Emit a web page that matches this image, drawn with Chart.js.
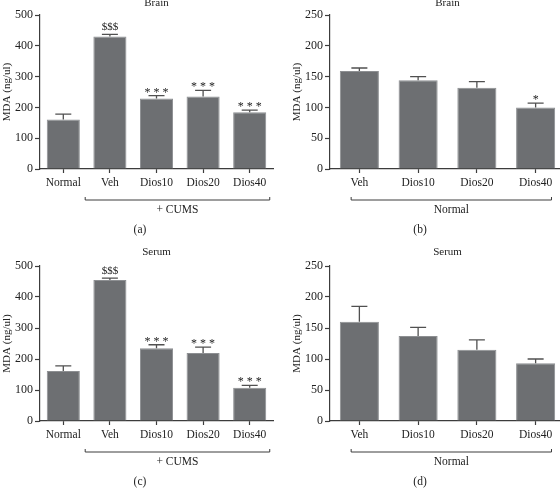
<!DOCTYPE html>
<html>
<head>
<meta charset="utf-8">
<script src="https://cdn.jsdelivr.net/npm/chart.js@4.4.1/dist/chart.umd.min.js"></script>
<style>
    html, body { margin: 0; padding: 0; background: #fff; overflow: hidden; }
    #wrap { position: relative; width: 560px; height: 490px; overflow: hidden; }
    canvas { position: absolute; }
</style>
</head>
<body>
<div id="wrap">
    <canvas id="panelA" width="280" height="245" style="left:0;top:0"></canvas>
    <canvas id="panelB" width="300" height="245" style="left:280px;top:0"></canvas>
    <canvas id="panelC" width="280" height="245" style="left:0;top:245px"></canvas>
    <canvas id="panelD" width="300" height="245" style="left:280px;top:245px"></canvas>
</div>
<script>
// Categories
const cumsLabels = ['Normal', 'Veh', 'Dios10', 'Dios20', 'Dios40'];
const normalLabels = ['Veh', 'Dios10', 'Dios20', 'Dios40'];

// Brain, + CUMS
const brainCumsMean = [161, 430, 229, 235, 184];
const brainCumsSem = [17, 7, 9, 20, 7];
const brainCumsMarks = ['', '$$$', '***', '***', '***'];

// Brain, Normal
const brainNormalMean = [159, 144, 132, 100];
const brainNormalSem = [5, 6, 10, 7];
const brainNormalMarks = ['', '', '', '*'];

// Serum, + CUMS
const serumCumsMean = [161, 455, 235, 219, 107];
const serumCumsSem = [17, 6, 11, 19, 8];
const serumCumsMarks = ['', '$$$', '***', '***', '***'];

// Serum, Normal
const serumNormalMean = [160, 137, 115, 93];
const serumNormalSem = [25, 14, 16, 7];
const serumNormalMarks = ['', '', '', ''];

// Tick labels
const cumsTicks = [0, 100, 200, 300, 400, 500];
const normalTicks = [0, 50, 100, 150, 200, 250];

const FONT = "'Liberation Serif', 'DejaVu Serif', serif";
const TEXT = '#222';
const AXIS = '#3c3c3c';
const BAR = '#6d6f72';

// Error bars, significance marks, titles, bracket and panel letter
const panelExtras = {
    id: 'panelExtras',
    afterDatasetsDraw(chart, args, opts) {
        const ctx = chart.ctx;
        const meta = chart.getDatasetMeta(0);
        const yScale = chart.scales.y;
        const values = chart.data.datasets[0].data;

        ctx.save();
        opts.sem.forEach(function (s, i) {
            const bar = meta.data[i];
            const base = yScale.getPixelForValue(values[i]);
            const top = yScale.getPixelForValue(values[i] + s);
            ctx.strokeStyle = '#505050';
            ctx.lineWidth = 1.3;
            ctx.beginPath();
            ctx.moveTo(bar.x, base);
            ctx.lineTo(bar.x, top);
            ctx.moveTo(bar.x - 8, top);
            ctx.lineTo(bar.x + 8, top);
            ctx.stroke();

            const mark = opts.marks[i];
            if (mark) {
                ctx.fillStyle = TEXT;
                ctx.textAlign = 'center';
                ctx.textBaseline = 'alphabetic';
                if (mark.charAt(0) === '$') {
                    ctx.font = '11px ' + FONT;
                    ctx.fillText(mark, bar.x, top - 4.5);
                } else {
                    ctx.font = '12px ' + FONT;
                    ctx.fillText(mark.split('').join(' '), bar.x, top);
                }
            }
        });
        ctx.restore();
    },
    afterDraw(chart, args, opts) {
        const ctx = chart.ctx;
        const area = chart.chartArea;
        const xScale = chart.scales.x;

        ctx.save();
        ctx.fillStyle = TEXT;
        ctx.textAlign = 'center';
        ctx.textBaseline = 'middle';

        // chart title
        ctx.font = '11px ' + FONT;
        ctx.fillText(opts.title, (area.left + area.right) / 2, opts.titleY);

        // y axis title
        ctx.save();
        ctx.translate(opts.yTitleX, (area.top + area.bottom) / 2);
        ctx.rotate(-Math.PI / 2);
        ctx.font = '11px ' + FONT;
        ctx.fillText('MDA (ng/ul)', 0, 0);
        ctx.restore();

        // group bracket
        const x0 = xScale.getPixelForValue(opts.bracket[0]);
        const x1 = xScale.getPixelForValue(opts.bracket[1]);
        const by = area.bottom + 31;
        ctx.strokeStyle = AXIS;
        ctx.lineWidth = 1;
        ctx.beginPath();
        ctx.moveTo(x0, by - 3);
        ctx.lineTo(x0, by);
        ctx.lineTo(x1, by);
        ctx.lineTo(x1, by - 3);
        ctx.stroke();

        ctx.font = '11.5px ' + FONT;
        ctx.fillText(opts.group, (x0 + x1) / 2, area.bottom + 41);

        // panel letter
        ctx.fillText(opts.letter, 140, area.bottom + 61);
        ctx.restore();
    }
};

function buildPanel(canvasId, labels, means, sems, marks, ticks, panel) {
    const canvas = document.getElementById(canvasId);
    return new Chart(canvas, {
        type: 'bar',
        data: {
            labels: labels,
            datasets: [{
                data: means,
                backgroundColor: BAR,
                borderColor: '#8d8f92',
                borderWidth: 1,
                barPercentage: panel.barPct,
                categoryPercentage: 1
            }]
        },
        plugins: [panelExtras],
        options: {
            responsive: false,
            animation: false,
            devicePixelRatio: 1,
            layout: { padding: { top: panel.top, right: canvas.width - panel.right, left: 0, bottom: 0 } },
            plugins: {
                legend: { display: false },
                tooltip: { enabled: false },
                panelExtras: {
                    sem: sems,
                    marks: marks,
                    title: panel.title,
                    titleY: panel.titleY,
                    yTitleX: panel.yTitleX,
                    group: panel.group,
                    bracket: panel.bracket,
                    letter: panel.letter
                }
            },
            scales: {
                x: {
                    afterFit: function (scale) { scale.height = canvas.height - panel.bottom; },
                    border: { display: true, color: AXIS, width: 1.2 },
                    grid: { display: true, offset: false, drawOnChartArea: false, drawTicks: true, tickLength: 4, tickColor: AXIS, tickWidth: 1.2 },
                    ticks: { color: TEXT, font: { family: FONT, size: 11.5 }, padding: 3, maxRotation: 0 }
                },
                y: {
                    min: ticks[0],
                    max: ticks[ticks.length - 1],
                    afterFit: function (scale) { scale.width = panel.left; },
                    afterBuildTicks: function (scale) {
                        scale.ticks = ticks.map(function (v) { return { value: v }; });
                    },
                    border: { display: true, color: AXIS, width: 1.2 },
                    grid: { display: true, drawOnChartArea: false, drawTicks: true, tickLength: 5, tickColor: AXIS, tickWidth: 1.2 },
                    ticks: { color: TEXT, font: { family: FONT, size: 12 }, padding: 2 }
                }
            }
        }
    });
}

buildPanel('panelA', cumsLabels, brainCumsMean, brainCumsSem, brainCumsMarks, cumsTicks, {
    left: 40, right: 273, top: 15, bottom: 169, barPct: 0.71,
    title: 'Brain', titleY: 3, yTitleX: 7,
    group: '+ CUMS', bracket: [0.47, 4.43], letter: '(a)'
});

buildPanel('panelB', normalLabels, brainNormalMean, brainNormalSem, brainNormalMarks, normalTicks, {
    left: 50, right: 285, top: 15, bottom: 169, barPct: 0.665,
    title: 'Brain', titleY: 3, yTitleX: 17,
    group: 'Normal', bracket: [-0.14, 3.27], letter: '(b)'
});

buildPanel('panelC', cumsLabels, serumCumsMean, serumCumsSem, serumCumsMarks, cumsTicks, {
    left: 40, right: 273, top: 21, bottom: 176, barPct: 0.71,
    title: 'Serum', titleY: 7, yTitleX: 7,
    group: '+ CUMS', bracket: [0.47, 4.43], letter: '(c)'
});

buildPanel('panelD', normalLabels, serumNormalMean, serumNormalSem, serumNormalMarks, normalTicks, {
    left: 50, right: 285, top: 21, bottom: 176, barPct: 0.665,
    title: 'Serum', titleY: 7, yTitleX: 17,
    group: 'Normal', bracket: [-0.14, 3.27], letter: '(d)'
});
</script>
</body>
</html>
